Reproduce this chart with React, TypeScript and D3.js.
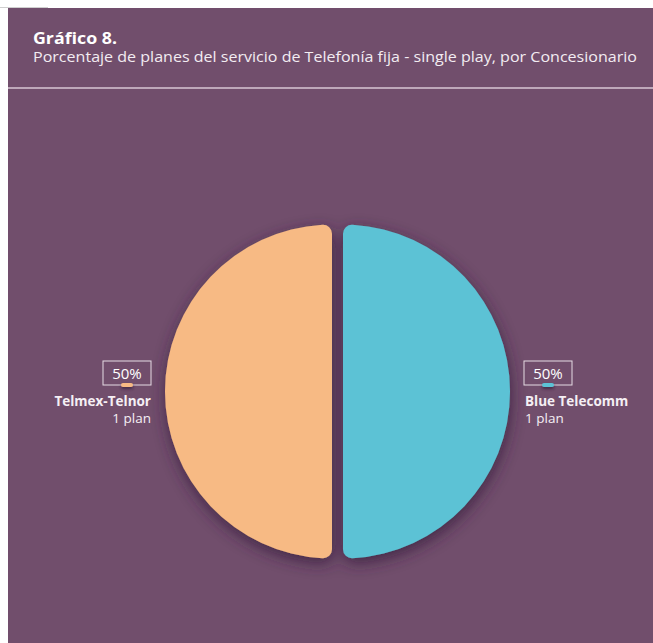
import React from 'react';
import * as d3 from 'd3';

const categories = ['Telmex-Telnor', 'Blue Telecomm'];
const plans = [1, 1];
const planLabels = ['1 plan', '1 plan'];
const colors = ['#F7BA84', '#5CC2D5'];

const W = 653, H = 643;
const FONT = "'Open Sans', 'Noto Sans', sans-serif";

export default function App() {
  const cx = 337.5, cy = 391.5, r = 167;
  const gap = 5.5;

  const total = d3.sum(plans);
  const pie = d3.pie<number>().sort(null).startAngle(Math.PI).endAngle(3 * Math.PI);
  const arcs = pie(plans);
  const arc = d3.arc<d3.PieArcDatum<number>>().innerRadius(0).outerRadius(r).cornerRadius(9);
  const pct = d3.format('.0%');

  return (
    <svg width={W} height={H} style={{ position: 'absolute', left: 0, top: 0 }}>
      <defs>
        <filter id="shadow" x="-30%" y="-30%" width="160%" height="160%">
          <feDropShadow dx="1" dy="5" stdDeviation="8" floodColor="#3a2140" floodOpacity="0.85" />
        </filter>
        <filter id="pillShadow" x="-100%" y="-200%" width="300%" height="500%">
          <feDropShadow dx="0" dy="2" stdDeviation="1.5" floodColor="#2e1a33" floodOpacity="0.7" />
        </filter>
      </defs>
      <rect x={8} y={8} width={W - 8} height={H - 8} fill="#714E6C" />
      <line x1={0} x2={48} y1={7.5} y2={7.5} stroke="#cfcfcf" strokeWidth={1} />
      <text x={33} y={44} fill="#ffffff" fontFamily={FONT} fontWeight={700} fontSize={16.5} textLength={84} lengthAdjust="spacingAndGlyphs">Gráfico 8.</text>
      <text x={33} y={62} fill="#f3ecf2" fontFamily={FONT} fontSize={14} textLength={604} lengthAdjust="spacingAndGlyphs">
        Porcentaje de planes del servicio de Telefonía fija - single play, por Concesionario
      </text>
      <line x1={8} x2={W} y1={88} y2={88} stroke="#d9c7d5" strokeWidth={1.3} />

      <g filter="url(#shadow)">
        {arcs.map((a, i) => {
          const mid = (a.startAngle + a.endAngle) / 2;
          const dx = Math.sin(mid) * gap, dy = -Math.cos(mid) * gap;
          return (
            <path key={categories[i]} d={arc(a) || ''} fill={colors[i]}
              transform={`translate(${cx + dx},${cy + dy})`} />
          );
        })}
      </g>

      {arcs.map((a, i) => {
        const mid = (a.startAngle + a.endAngle) / 2;
        const side = Math.sin(mid) < 0 ? -1 : 1;
        const edge = cx + side * (r + gap + 14);
        const boxW = 48, boxH = 24;
        const bx = side < 0 ? edge - boxW : edge;
        const by = cy - 30.5;
        const anchor = side < 0 ? 'end' : 'start';
        const tx = side < 0 ? edge : edge + 1;
        return (
          <g key={categories[i]}>
            <rect x={bx} y={by} width={boxW} height={boxH} fill="none" stroke="#e6dbe4" strokeWidth={1} />
            <text x={bx + boxW / 2} y={by + 18} textAnchor="middle" fill="#ffffff" fontFamily={FONT} fontSize={15}>
              {pct(plans[i] / total)}
            </text>
            <rect x={bx + boxW / 2 - 6} y={by + boxH - 2} width={12} height={4} rx={2} fill={colors[i]} filter="url(#pillShadow)" />
            <text x={tx} y={cy + 14.5} textAnchor={anchor} fill="#f5eff4" fontFamily={FONT} fontWeight={700} fontSize={13.5}>
              {categories[i]}
            </text>
            <text x={tx} y={cy + 31.5} textAnchor={anchor} fill="#f5eff4" fontFamily={FONT} fontSize={13.5}>
              {planLabels[i]}
            </text>
          </g>
        );
      })}
    </svg>
  );
}
